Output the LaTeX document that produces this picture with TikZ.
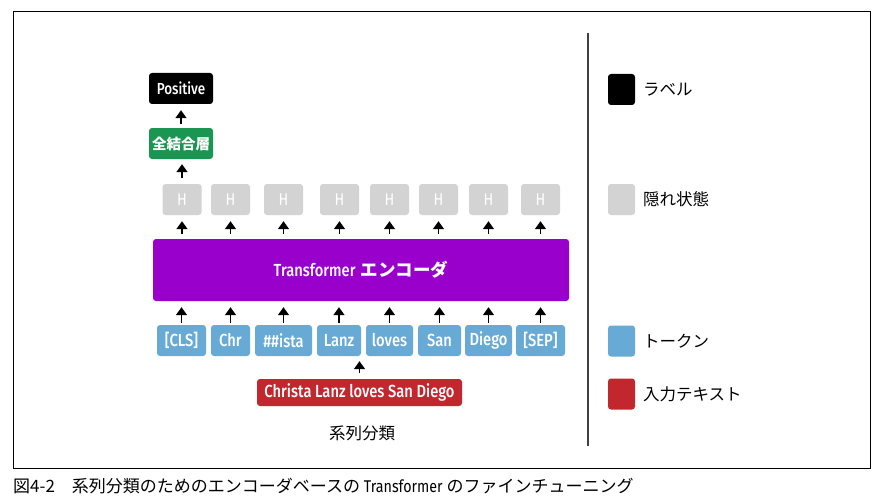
\documentclass[tikz,border=0pt]{standalone}
\usepackage{fontspec}
\usetikzlibrary{arrows.meta}
\newfontfamily\lat[FakeStretch=0.84]{Fira Sans}
\newfontfamily\latmed[FakeStretch=0.84]{Fira Sans Medium}
\newfontfamily\jp{Noto Sans CJK JP}
\definecolor{cgreen}{RGB}{27,150,82}
\definecolor{cpurple}{RGB}{153,0,204}
\definecolor{cgray}{RGB}{211,211,211}
\definecolor{cblue}{RGB}{104,170,214}
\definecolor{cred}{RGB}{193,39,45}
\definecolor{cline}{RGB}{64,64,64}
\tikzset{
  box/.style={rounded corners=3pt, inner sep=0pt, text=white, minimum height=31pt},
  tok/.style={box, fill=cblue, font=\latmed\fontsize{17.5}{20}\selectfont},
  hid/.style={box, fill=cgray, minimum width=39pt, font=\lat\fontsize{17}{20}\selectfont},
  legsq/.style={rounded corners=3pt, inner sep=0pt, minimum width=27pt, minimum height=31pt},
  legtxt/.style={anchor=west, inner sep=0pt, font=\jp\fontsize{16.5}{19}\selectfont},
  up/.style={-{Triangle[width=11pt,length=8pt]}, line width=1.5pt, black},
}
\begin{document}
\begin{tikzpicture}[x=1pt,y=-1pt]
\useasboundingbox (0,0) rectangle (890,500);
\draw[line width=1pt] (13,12) rectangle (870,468);
\coordinate (vt) at (588,33);
\coordinate (vb) at (588,446);
\draw[cline, line width=1.6pt] (vt) -- (vb);

% tokens
\node[tok, minimum width=49pt] (t1) at (181.5,340.5) {[CLS]};
\node[tok, minimum width=39pt] (t2) at (230.5,340.5) {Chr};
\node[tok, minimum width=57pt] (t3) at (283.5,340.5) {\#\#ista};
\node[tok, minimum width=44pt] (t4) at (339,340.5) {Lanz};
\node[tok, minimum width=47pt] (t5) at (389.5,340.5) {loves};
\node[tok, minimum width=43pt] (t6) at (439.5,340.5) {San};
\node[tok, minimum width=47pt] (t7) at (488.5,340.5) {Diego};
\node[tok, minimum width=49pt] (t8) at (540.5,340.5) {[SEP]};

% hidden
\foreach \i/\x in {1/182,2/230.5,3/283.5,4/339.5,5/389.5,6/438.5,7/488.5,8/540.5}
  \node[hid] (h\i) at (\x,199.5) {H};

% encoder
\node[box, fill=cpurple, minimum width=416pt, minimum height=62pt] (enc) at (361,270)
  {\fontsize{17.5}{20}\selectfont{\latmed Transformer} {\jp\bfseries エンコーダ}};

% head
\node[box, fill=cgreen, minimum width=64pt] (fc) at (181,143.5)
  {\jp\bfseries\fontsize{14.5}{16}\selectfont 全結合層};
\node[box, fill=black, minimum width=64pt] (pos) at (181,88.5)
  {\latmed\fontsize{16}{18}\selectfont Positive};

% input text
\node[box, fill=cred, minimum width=205pt, minimum height=27pt] (inp) at (359.5,392.5)
  {\latmed\fontsize{17.5}{20}\selectfont Christa Lanz loves San Diego};
\node[inner sep=0pt, font=\jp\fontsize{16.5}{19}\selectfont] (title) at (362,433) {系列分類};

% arrows
\foreach \i in {1,...,8} {
  \draw[up, shorten <=5pt, shorten >=6pt] (h\i.south |- enc.north) -- (h\i.south);
  \draw[up, shorten <=2pt, shorten >=6pt] (t\i.north) -- (t\i.north |- enc.south);
}
\draw[up, shorten <=6pt, shorten >=5pt] (inp.north) -- (inp.north |- t4.south);
\draw[up, shorten <=6pt, shorten >=5pt] (h1.north) -- (h1.north |- fc.south);
\draw[up, shorten <=4pt, shorten >=6pt] (fc.north) -- (pos.south);

% legend
\node[legsq, fill=black] (l1) at (621.5,89.5) {};
\node[legsq, fill=cgray] (l2) at (621.5,199.5) {};
\node[legsq, fill=cblue] (l3) at (621.5,341) {};
\node[legsq, fill=cred] (l4) at (621.5,394) {};
\node[legtxt] (lt1) at (643,89.5) {ラベル};
\node[legtxt] (lt2) at (643,199.5) {隠れ状態};
\node[legtxt] (lt3) at (643,341) {トークン};
\node[legtxt] (lt4) at (643,394) {入力テキスト};

% caption
\node[anchor=west, inner sep=0pt, font=\jp\fontsize{17}{19}\selectfont] (cap) at (13,486)
  {図4-2\hspace{1em}系列分類のためのエンコーダベースの {\lat Transformer} のファインチューニング};
\end{tikzpicture}
\end{document}
